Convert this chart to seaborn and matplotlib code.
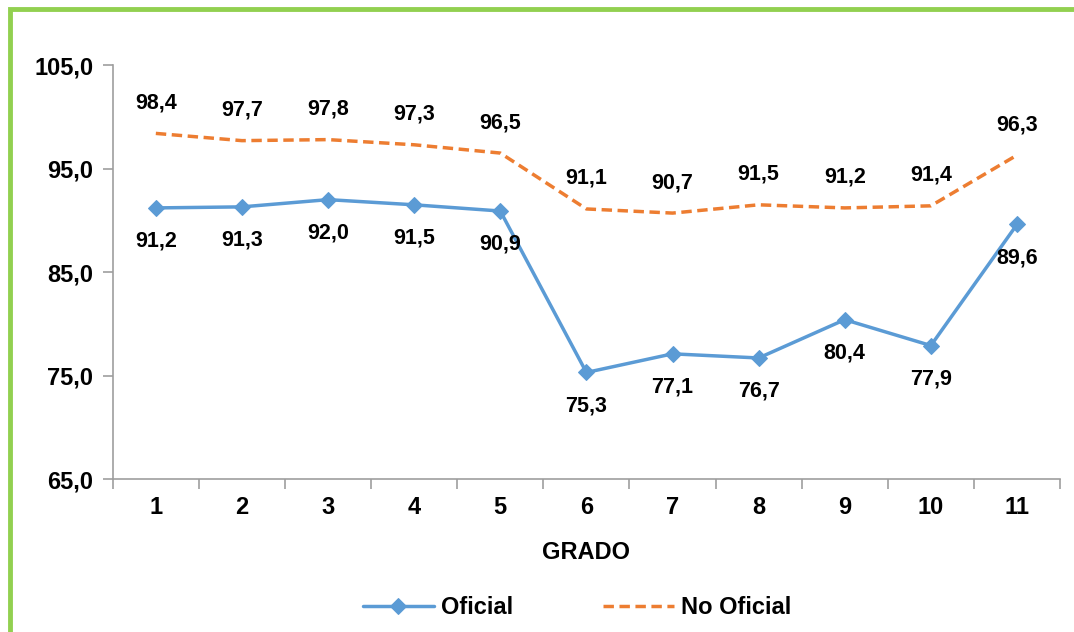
import numpy as np
import pandas as pd
import matplotlib
matplotlib.use("Agg")
import matplotlib.pyplot as plt
import seaborn as sns
from matplotlib.patches import Rectangle

# Datos del grafico
grados = [1, 2, 3, 4, 5, 6, 7, 8, 9, 10, 11]
oficial = [91.2, 91.3, 92.0, 91.5, 90.9, 75.3, 77.1, 76.7, 80.4, 77.9, 89.6]
no_oficial = [98.4, 97.7, 97.8, 97.3, 96.5, 91.1, 90.7, 91.5, 91.2, 91.4, 96.3]
y_ticks = [65.0, 75.0, 85.0, 95.0, 105.0]

sns.set_style("white")
plt.rcParams['font.family'] = ['Liberation Sans', 'DejaVu Sans']
plt.rcParams['font.weight'] = 'bold'
plt.rcParams['text.color'] = 'black'
plt.rcParams['xtick.color'] = 'black'
plt.rcParams['ytick.color'] = 'black'
plt.rcParams['axes.labelcolor'] = 'black'

azul = "#5B9BD5"
naranja = "#ED7D31"
gris = "#9E9E9E"

fig = plt.figure(figsize=(10.74, 6.32), dpi=100)
ax = fig.add_axes([0.105, 0.242, 0.882, 0.655])

df = pd.DataFrame({"grado": grados, "Oficial": oficial, "No Oficial": no_oficial})

sns.lineplot(data=df, x="grado", y="Oficial", ax=ax, color=azul, linewidth=2.5,
             marker="D", markersize=8, markeredgecolor=azul, label="Oficial")
sns.lineplot(data=df, x="grado", y="No Oficial", ax=ax, color=naranja, linewidth=2.5,
             linestyle=(0, (3, 1.6)), label="No Oficial")

# Etiquetas de datos
fmt = lambda v: f"{v:.1f}".replace(".", ",")
for g, v in zip(grados, oficial):
    ax.annotate(fmt(v), (g, v), xytext=(0, -24), textcoords="offset points",
                ha="center", va="center", fontsize=15.5, fontweight="bold")
for g, v in zip(grados, no_oficial):
    ax.annotate(fmt(v), (g, v), xytext=(0, 22), textcoords="offset points",
                ha="center", va="center", fontsize=15.5, fontweight="bold")

ax.set_xlim(0.5, 11.5)
ax.set_ylim(65, 105)
ax.set_yticks(y_ticks)
ax.set_yticklabels([fmt(t) for t in y_ticks], fontsize=17, fontweight="bold")

# ticks del eje x entre categorias
ax.set_xticks(np.arange(0.5, 12.0, 1.0))
ax.set_xticklabels([])
ax.set_xticks(grados, minor=True)
ax.set_xticklabels([str(g) for g in grados], minor=True, fontsize=17, fontweight="bold")
ax.tick_params(axis="x", which="major", bottom=True, direction="out", length=7,
               color=gris, width=1.2)
ax.tick_params(axis="x", which="minor", bottom=True, length=0, pad=12)
ax.tick_params(axis="y", left=True, direction="out", length=7, color=gris, width=1.2, pad=7)

for s in ["top", "right"]:
    ax.spines[s].set_visible(False)
for s in ["left", "bottom"]:
    ax.spines[s].set_color(gris)
    ax.spines[s].set_linewidth(1.2)

ax.set_xlabel("GRADO", fontsize=17, fontweight="bold", labelpad=16)
ax.set_ylabel("")

leg = ax.legend(loc="upper center", bbox_to_anchor=(0.49, -0.232), ncol=2, frameon=False,
                prop={"size": 17, "weight": "bold"}, handlelength=3.0, columnspacing=3.8,
                handletextpad=0.3)

# borde verde
fig.patches.append(Rectangle((0.009, -0.1), 1.2, 1.085, transform=fig.transFigure,
                             fill=False, edgecolor="#92D050", linewidth=3.5))

fig.savefig("out.png", dpi=100)
